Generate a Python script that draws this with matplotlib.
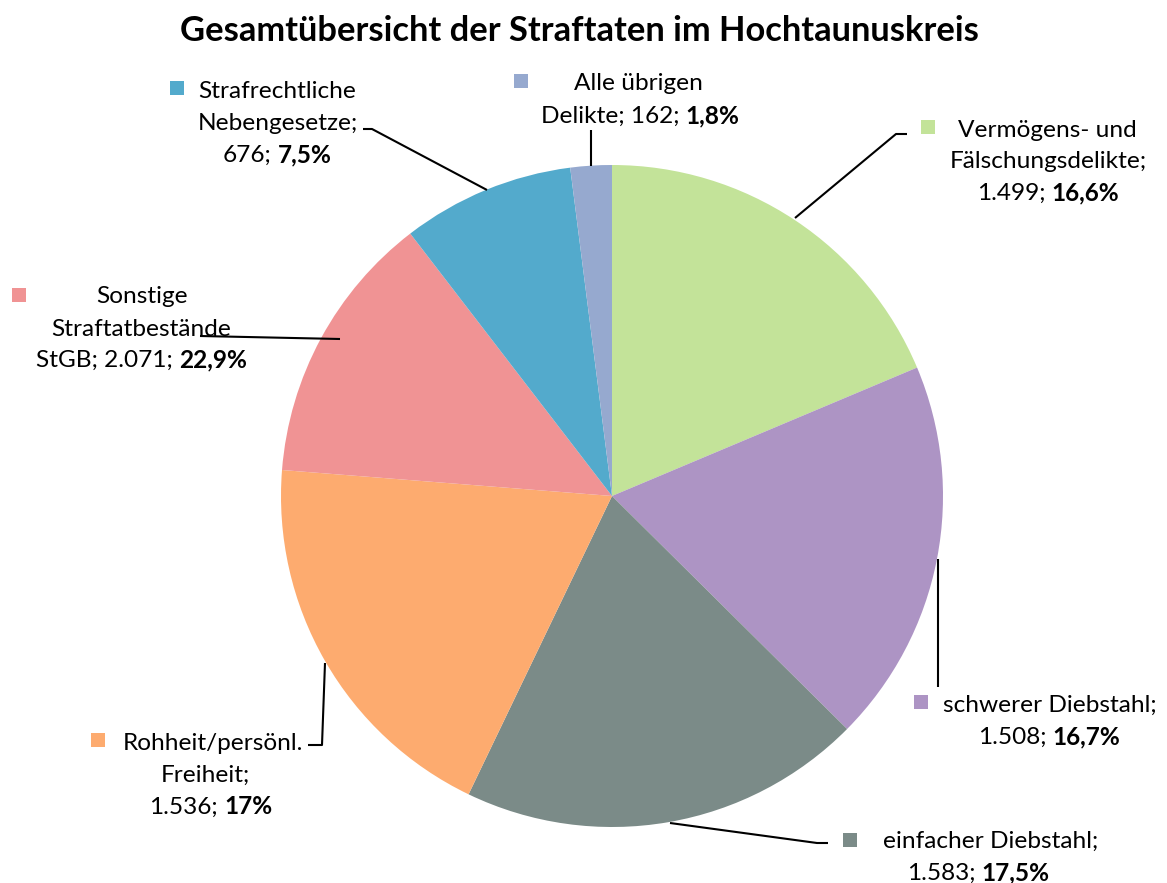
import matplotlib
matplotlib.use("Agg")
import matplotlib.pyplot as plt
from matplotlib.patches import Rectangle

plt.rcParams['font.family'] = ['Lato', 'DejaVu Sans']

# --- data (clockwise from 12 o'clock) ---
title = "Gesamtübersicht der Straftaten im Hochtaunuskreis"
name_lines = [
    ["Vermögens- und", "Fälschungsdelikte;"],
    ["schwerer Diebstahl;"],
    ["einfacher Diebstahl;"],
    ["Rohheit/persönl.", "Freiheit;"],
    ["Sonstige", "Straftatbestände"],
    ["Strafrechtliche", "Nebengesetze;"],
    ["Alle übrigen"],
]
last_prefix = ["", "", "", "", "StGB; ", "", "Delikte; "]
counts = ["1.499", "1.508", "1.583", "1.536", "2.071", "676", "162"]
percents = ["16,6%", "16,7%", "17,5%", "17%", "22,9%", "7,5%", "1,8%"]
# slice sizes as drawn in the original (the "Sonstige" wedge is drawn smaller than its label says)
slice_sizes = [1499, 1508, 1583, 1536, 1070, 676, 162]
colors = ["#C3E399", "#AD94C4", "#7B8B88", "#FDAB6F", "#F09394", "#53AACC", "#96A9CF"]

# --- layout in pixel coords (from top) ---
W, H = 1167, 883
pie_center = (612, 496)
pie_radius = 331
square_pos = [(928, 127), (921, 702), (850, 840), (98, 740), (19, 295), (177, 88), (521, 81)]
line_x = [[1047, 1048, 1048], [1050, 1049], [991, 978], [213, 205, 211],
          [142, 141, 142], [277, 278, 277], [638, 640]]
line_base = [[137, 168, 200], [712, 744], [848, 880], [750, 782, 814],
             [303, 336, 367], [98, 130, 162], [90, 123]]
leaders = [
    [(907, 134), (896, 134), (795, 218)],
    [(938, 559), (938, 687)],
    [(670, 823), (817, 843), (828, 843)],
    [(308, 745), (322, 745), (325, 663)],
    [(200, 336), (340, 339)],
    [(363, 129), (372, 129), (487, 190)],
    [(591, 130), (591, 166)],
]


def Y(p):
    return H - p


fig = plt.figure(figsize=(W / 100, H / 100), dpi=100)
ax = fig.add_axes([0, 0, 1, 1])
ax.pie(slice_sizes, colors=colors, startangle=90, counterclock=False,
       center=(pie_center[0], Y(pie_center[1])), radius=pie_radius,
       wedgeprops=dict(linewidth=0))
ax.set_xlim(0, W)
ax.set_ylim(0, H)
ax.set_aspect('auto')
ax.axis('off')

renderer = fig.canvas.get_renderer()


def text_width(s, size, weight='normal'):
    t = ax.text(0, 0, s, fontsize=size, fontweight=weight)
    w = t.get_window_extent(renderer).width
    t.remove()
    return w


# fit font sizes to the reference text widths
FS = 10 * 157 / text_width("Strafrechtliche", 10)
TS = 10 * 802 / text_width(title, 10, 'bold')
gap = text_width("a a", FS) - text_width("aa", FS)

ax.text(579, Y(41), title, fontsize=TS, fontweight='bold', ha='center', va='baseline')


def put_line(xc, yb, normal, bold=None):
    if bold is None:
        ax.text(xc, Y(yb), normal, fontsize=FS, ha='center', va='baseline')
        return
    t1 = ax.text(0, Y(yb), normal, fontsize=FS, ha='left', va='baseline')
    t2 = ax.text(0, Y(yb), bold, fontsize=FS, fontweight='bold', ha='left', va='baseline')
    w1 = t1.get_window_extent(renderer).width
    w2 = t2.get_window_extent(renderer).width
    x0 = xc - (w1 + gap + w2) / 2
    t1.set_x(x0)
    t2.set_x(x0 + w1 + gap)


for i in range(len(name_lines)):
    sx, sy = square_pos[i]
    ax.add_patch(Rectangle((sx - 7, Y(sy) - 7), 14, 14, color=colors[i], lw=0))
    lines = name_lines[i]
    for j, s in enumerate(lines):
        put_line(line_x[i][j], line_base[i][j], s)
    k = len(lines)
    put_line(line_x[i][k], line_base[i][k], last_prefix[i] + counts[i] + ";", percents[i])

    xs = [p[0] for p in leaders[i]]
    ys = [Y(p[1]) for p in leaders[i]]
    ax.plot(xs, ys, color='black', lw=1.5, solid_capstyle='butt')

fig.savefig("out.png", dpi=100)
